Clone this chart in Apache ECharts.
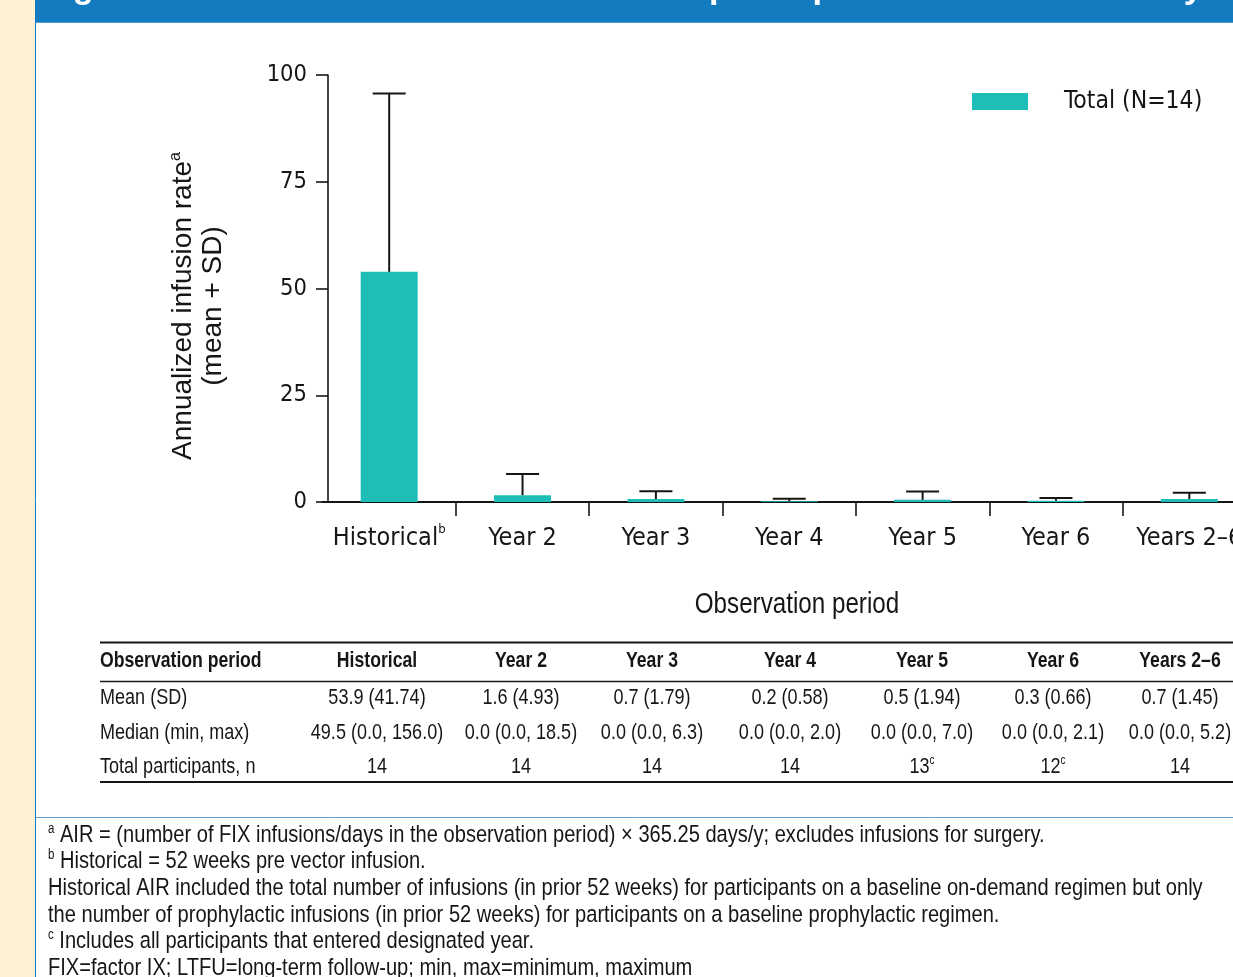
<!DOCTYPE html>
<html>
<head>
<meta charset="utf-8">
<script src="https://cdn.jsdelivr.net/npm/echarts@6/dist/echarts.min.js"></script>
<style>
  html, body { margin: 0; padding: 0; background: #ffffff; }
  #chart { width: 1233px; height: 977px; }
</style>
</head>
<body>
<div id="chart"></div>
<script>
// ---- Data ----
const categories = ['Historical', 'Year 2', 'Year 3', 'Year 4', 'Year 5', 'Year 6', 'Years 2–6'];
const categoryNotes = ['b', '', '', '', '', '', ''];
const meanValues = [53.9, 1.6, 0.7, 0.2, 0.5, 0.3, 0.7];
const sdValues = [41.74, 4.93, 1.79, 0.58, 1.94, 0.66, 1.45];
const medianValues = [49.5, 0.0, 0.0, 0.0, 0.0, 0.0, 0.0];
const minValues = [0.0, 0.0, 0.0, 0.0, 0.0, 0.0, 0.0];
const maxValues = [156.0, 18.5, 6.3, 2.0, 7.0, 2.1, 5.2];
const participants = [14, 14, 14, 14, 13, 12, 14];
const participantNotes = ['', '', '', '', 'c', 'c', ''];
const yMin = 0, yMax = 100, yInterval = 25;
const seriesName = 'Total (N=14)';
const titleText = 'Figure 3. Annualized infusion rate for all participants in the LTFU study';
const rowLabels = ['Mean (SD)', 'Median (min, max)', 'Total participants, n'];
const footnotes = [
  ['a', 'AIR = (number of FIX infusions/days in the observation period) × 365.25 days/y; excludes infusions for surgery.'],
  ['b', 'Historical = 52 weeks pre vector infusion.'],
  ['', 'Historical AIR included the total number of infusions (in prior 52 weeks) for participants on a baseline on-demand regimen but only'],
  ['', 'the number of prophylactic infusions (in prior 52 weeks) for participants on a baseline prophylactic regimen.'],
  ['c', 'Includes all participants that entered designated year.'],
  ['', 'FIX=factor IX; LTFU=long-term follow-up; min, max=minimum, maximum']
];

// ---- Styles ----
const CONDENSED = "'DejaVu Sans Condensed', 'Liberation Sans Narrow', sans-serif";
const REGULAR = "'Liberation Sans', Arial, sans-serif";
const NARROW_SCALE = 0.82;   // horizontal squeeze for narrow table / note text
const INK = '#161616';
const TEAL = '#1FBDB8';
const BLUE = '#137BBF';

// Narrow text: Liberation Sans squeezed horizontally around its anchor point
function ntxt(x, y, text, style) {
  return {
    type: 'text', x: x, y: y, scaleX: NARROW_SCALE, silent: true,
    style: Object.assign({ text: text, fill: INK, fontFamily: REGULAR, fontSize: 22,
      align: 'left', verticalAlign: 'middle' }, style || {})
  };
}
function hline(x1, x2, y, w, color) {
  return { type: 'line', silent: true,
    shape: { x1: x1, y1: y, x2: x2, y2: y },
    style: { stroke: color || INK, lineWidth: w } };
}

// Error bars: stem from the mean up to mean + SD, with a cap on top
function renderErrorBar(params, api) {
  const i = api.value(0), m = api.value(1), sd = api.value(2);
  const base = api.coord([i, m]);
  const top = api.coord([i, m + sd]);
  const half = 16.5;
  return {
    type: 'group',
    children: [
      { type: 'line', shape: { x1: base[0], y1: base[1], x2: top[0], y2: top[1] },
        style: { stroke: INK, lineWidth: 2 } },
      { type: 'line', shape: { x1: top[0] - half, y1: top[1], x2: top[0] + half, y2: top[1] },
        style: { stroke: INK, lineWidth: 2 } }
    ]
  };
}

// ---- Summary table built from the same values ----
const colX = [377, 521, 652, 790, 922, 1053, 1180];
const rowY = [698, 733, 767];
const fmt1 = v => v.toFixed(1);
const meanRow = meanValues.map((m, i) => fmt1(m) + ' (' + sdValues[i].toFixed(2) + ')');
const medianRow = medianValues.map((m, i) => fmt1(m) + ' (' + fmt1(minValues[i]) + ', ' + fmt1(maxValues[i]) + ')');
const nRow = participants.map((n, i) => '{n|' + n + '}' + (participantNotes[i] ? '{s|' + participantNotes[i] + '}' : ''));

const tableRich = {
  n: { fontSize: 22, fontFamily: REGULAR, fill: INK, lineHeight: 24 },
  s: { fontSize: 12, fontFamily: REGULAR, fill: INK, lineHeight: 14, verticalAlign: 'top' }
};
const noteRich = {
  n: { fontSize: 24.5, fontFamily: REGULAR, fill: INK, lineHeight: 26 },
  s: { fontSize: 14, fontFamily: REGULAR, fill: INK, lineHeight: 16, verticalAlign: 'top' }
};

const graphics = [
  // side stripe and header band
  { type: 'rect', silent: true, shape: { x: 0, y: 0, width: 35, height: 977 }, style: { fill: '#FFF1D6' } },
  { type: 'rect', silent: true, shape: { x: 35, y: 0, width: 1198, height: 22.7 }, style: { fill: BLUE } },
  { type: 'line', silent: true, shape: { x1: 35.5, y1: 22, x2: 35.5, y2: 977 }, style: { stroke: BLUE, lineWidth: 1 } },
  { type: 'text', silent: true, x: 42, y: -12,
    style: { text: titleText, fill: '#ffffff', fontFamily: REGULAR, fontWeight: 'bold', fontSize: 34.5,
      align: 'left', verticalAlign: 'middle' } },
  // axis titles
  {
    type: 'text', silent: true, x: 198, y: 306, rotation: Math.PI / 2,
    style: {
      text: '{n|Annualized infusion rate}{s|a}\n{n|(mean + SD)}',
      align: 'center', verticalAlign: 'middle',
      rich: {
        n: { fontSize: 28, fontFamily: REGULAR, fill: INK, lineHeight: 30 },
        s: { fontSize: 16, fontFamily: REGULAR, fill: INK, lineHeight: 18, verticalAlign: 'top' }
      }
    }
  },
  ntxt(797, 605, 'Observation period', { fontSize: 29.5, align: 'center' }),
  // table rules
  hline(100, 1233, 642.5, 2),
  hline(100, 1233, 681.5, 1.5),
  hline(100, 1233, 782, 2),
  ntxt(100, 661, 'Observation period', { fontWeight: 'bold', fontSize: 21.5 }),
  // separator above footnotes
  hline(36, 1233, 817.5, 1, '#5A9BD0')
];
categories.forEach((c, i) => {
  graphics.push(ntxt(colX[i], 661, c, { fontWeight: 'bold', fontSize: 21.5, align: 'center' }));
  graphics.push(ntxt(colX[i], rowY[0], meanRow[i], { align: 'center' }));
  graphics.push(ntxt(colX[i], rowY[1], medianRow[i], { align: 'center' }));
  graphics.push(ntxt(colX[i], rowY[2], nRow[i], { align: 'center', rich: tableRich }));
});
rowLabels.forEach((r, k) => graphics.push(ntxt(100, rowY[k], r)));
footnotes.forEach((f, k) => {
  const t = (f[0] ? '{s|' + f[0] + '}{n| ' : '{n|') + f[1] + '}';
  graphics.push(ntxt(48, 835 + k * 26.6, t, { rich: noteRich }));
});

const option = {
  animation: false,
  backgroundColor: '#ffffff',
  // plot area runs past the right edge of the page, so the last category is cut off
  grid: { left: 322.5, top: 75, width: 933.5, height: 427, containLabel: false, outerBoundsMode: 'none' },
  legend: {
    data: [{ name: seriesName, icon: 'rect' }],
    left: 972, top: 89, padding: 0,
    itemWidth: 56, itemHeight: 17,
    selectedMode: false,
    textStyle: { fontSize: 24.5, fontFamily: CONDENSED, color: INK, padding: [0, 0, 0, 31] }
  },
  xAxis: {
    type: 'category',
    data: categories,
    axisLine: { lineStyle: { color: INK, width: 1.8 } },
    axisTick: { show: true, length: 14, interval: i => i > 0, lineStyle: { color: INK, width: 1.6 } },
    axisLabel: {
      interval: 0, margin: 21, hideOverlap: false,
      formatter: (v, i) => '{n|' + v + '}' + (categoryNotes[i] ? '{s|' + categoryNotes[i] + '}' : ''),
      rich: {
        n: { fontSize: 25, fontFamily: CONDENSED, color: INK, lineHeight: 30 },
        s: { fontSize: 13, fontFamily: CONDENSED, color: INK, lineHeight: 18, verticalAlign: 'top' }
      }
    }
  },
  yAxis: {
    type: 'value', min: yMin, max: yMax, interval: yInterval,
    offset: -5.5,
    axisLine: { show: true, lineStyle: { color: INK, width: 1.6 } },
    axisTick: { show: true, length: 12, lineStyle: { color: INK, width: 1.6 } },
    splitLine: { show: false },
    axisLabel: { margin: 21, fontSize: 23.5, fontFamily: CONDENSED, color: INK }
  },
  series: [
    { type: 'bar', name: seriesName, data: meanValues, barWidth: 57, itemStyle: { color: TEAL } },
    { type: 'custom', name: 'SD', renderItem: renderErrorBar, z: 5,
      data: meanValues.map((m, i) => [i, m, sdValues[i]]) }
  ],
  graphic: graphics
};

const chart = echarts.init(document.getElementById('chart'), null, { renderer: 'canvas' });
chart.setOption(option);
</script>
</body>
</html>
